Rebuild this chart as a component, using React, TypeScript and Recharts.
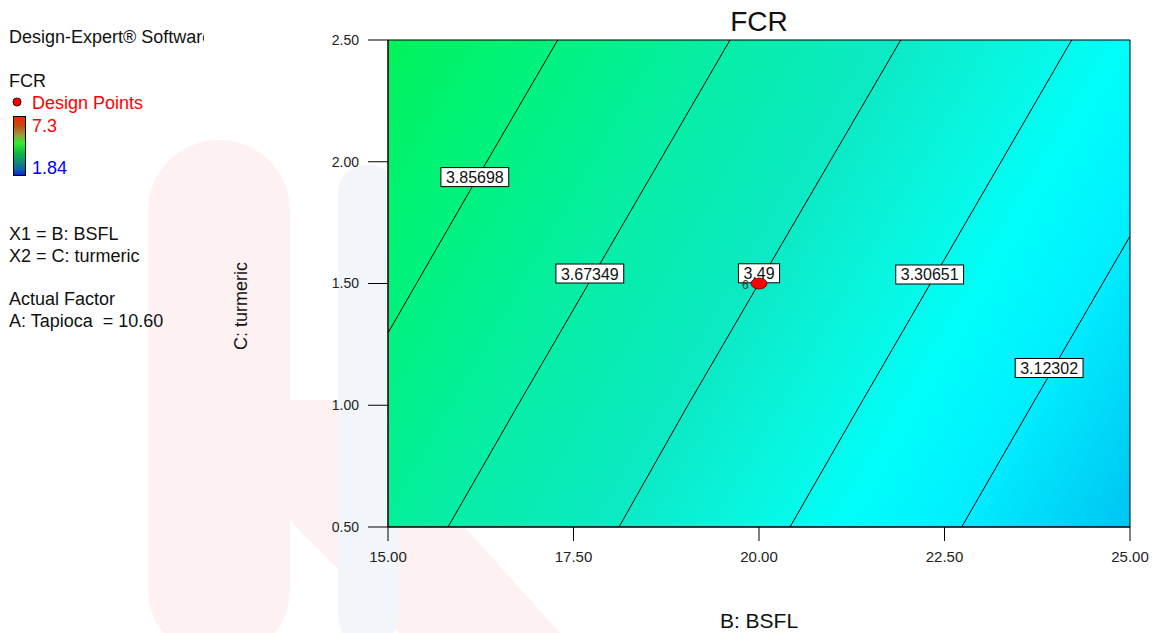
import { ComposedChart, Scatter, XAxis, YAxis, ReferenceArea } from 'recharts';

// axis ticks
const X_TICKS = [15, 17.5, 20, 22.5, 25];
const Y_TICKS = [0.5, 1, 1.5, 2, 2.5];

// contour lines (B: BSFL, C: turmeric)
const LEVEL_385698 = [{ x: 15, y: 1.297 }, { x: 16.21, y: 1.937 }, { x: 17.287, y: 2.5 }];
const LEVEL_367349 = [{ x: 15.809, y: 0.5 }, { x: 16.752, y: 1.001 }, { x: 19.609, y: 2.5 }];
const LEVEL_349 = [{ x: 18.113, y: 0.5 }, { x: 19.043, y: 1.001 }, { x: 21.91, y: 2.5 }];
const LEVEL_330651 = [{ x: 20.418, y: 0.5 }, { x: 21.361, y: 1.001 }, { x: 24.214, y: 2.5 }];
const LEVEL_312302 = [{ x: 22.732, y: 0.5 }, { x: 23.679, y: 1.001 }, { x: 25, y: 1.694 }];

const CONTOURS = [LEVEL_385698, LEVEL_367349, LEVEL_349, LEVEL_330651, LEVEL_312302];

const CONTOUR_LABELS = [
  { x: 16.17, y: 1.937, text: '3.85698' },
  { x: 17.72, y: 1.541, text: '3.67349' },
  { x: 20.0, y: 1.542, text: '3.49' },
  { x: 22.3, y: 1.537, text: '3.30651' },
  { x: 23.91, y: 1.153, text: '3.12302' },
];

const DESIGN_POINTS = [{ x: 20, y: 1.5, count: 6 }];

const FONT = "'Liberation Sans', Arial, sans-serif";

function textWidth(s: string, size: number) {
  let w = 0;
  for (const ch of s) w += ch === '.' ? 0.278 : 0.556;
  return w * size;
}

function NoDot() {
  return <g />;
}

function ContourLabel(props: any) {
  const { cx, cy, payload } = props;
  const w = textWidth(payload.text, 16) + 10;
  const h = 19;
  return (
    <g>
      <rect x={cx - w / 2} y={cy - h / 2} width={w} height={h} fill="#fff" stroke="#000" strokeWidth={1} />
      <text x={cx} y={cy + 6} textAnchor="middle" fontSize={16} fontFamily={FONT} fill="#111">{payload.text}</text>
    </g>
  );
}

function DesignPoint(props: any) {
  const { cx, cy, payload } = props;
  return (
    <g>
      <text x={cx - 17} y={cy + 5} fontSize={12} fontFamily={FONT} fill="#333">{payload.count}</text>
      <ellipse cx={cx} cy={cy} rx={8} ry={5.5} fill="#ff0000" stroke="#600" strokeWidth={0.8} />
    </g>
  );
}

function Panel() {
  return (
    <svg width={1158} height={633} style={{ position: 'absolute', left: 0, top: 0 }}>
      {/* faint watermark */}
      <rect x={148} y={140} width={142} height={520} rx={71} fill="#fdf1f1" />
      <polygon points="290,400 350,400 560,633 400,633 290,520" fill="#fdf1f1" />
      <rect x={338} y={165} width={60} height={480} rx={28} fill="#f2f5f9" />

      <clipPath id="swClip"><rect x={0} y={0} width={204} height={60} /></clipPath>
      <g fontFamily={FONT} fontSize={18} fill="#111">
        <text x={9} y={43} clipPath="url(#swClip)">Design-Expert® Software</text>
        <text x={9} y={87}>FCR</text>
        <circle cx={17} cy={102} r={4} fill="#ff0000" stroke="#300" strokeWidth={1} />
        <text x={32} y={109} fill="#ff0000">Design Points</text>
        <text x={32} y={132} fill="#ff0000">7.3</text>
        <text x={32} y={174} fill="#0000ff">1.84</text>
        <text x={9} y={240}>X1 = B: BSFL</text>
        <text x={9} y={262}>X2 = C: turmeric</text>
        <text x={9} y={305}>Actual Factor</text>
        <text x={9} y={327} style={{ whiteSpace: 'pre' }}>{'A: Tapioca  = 10.60'}</text>
      </g>
      <defs>
        <linearGradient id="barGrad" x1="0" y1="0" x2="0" y2="1">
          <stop offset="0" stopColor="#ff2000" />
          <stop offset="0.15" stopColor="#c04a10" />
          <stop offset="0.3" stopColor="#a89040" />
          <stop offset="0.45" stopColor="#30f030" />
          <stop offset="0.62" stopColor="#10b840" />
          <stop offset="0.78" stopColor="#108878" />
          <stop offset="0.9" stopColor="#1060a8" />
          <stop offset="1" stopColor="#0020e0" />
        </linearGradient>
      </defs>
      <rect x={13.5} y={116.5} width={12} height={59} fill="url(#barGrad)" stroke="#000" strokeWidth={1} />

      <text x={759} y={31} textAnchor="middle" fontFamily={FONT} fontSize={28} fill="#111">FCR</text>
      <text x={759} y={628} textAnchor="middle" fontFamily={FONT} fontSize={21} fill="#111">B: BSFL</text>
      <text transform="translate(247,306) rotate(-90)" textAnchor="middle" fontFamily={FONT} fontSize={18} fill="#111">C: turmeric</text>
    </svg>
  );
}

export default function App() {
  return (
    <div style={{ position: 'absolute', left: 0, top: 0, width: 1158, height: 633, background: '#fff' }}>
      <Panel />
      <div style={{ position: 'absolute', left: 0, top: 0 }}>
        <ComposedChart width={1158} height={633} margin={{ top: 40, right: 28, bottom: 0, left: 0 }}>
          <defs>
            <linearGradient id="fcrBg" gradientUnits="userSpaceOnUse" x1={388} y1={40} x2={1154.6} y2={483.9}>
              <stop offset="0" stopColor="#00f35a" />
              <stop offset="0.16" stopColor="#00f27e" />
              <stop offset="0.33" stopColor="#06eea6" />
              <stop offset="0.5" stopColor="#0ceac6" />
              <stop offset="0.62" stopColor="#08f6e0" />
              <stop offset="0.72" stopColor="#00fefa" />
              <stop offset="0.82" stopColor="#00f0ff" />
              <stop offset="1" stopColor="#00c4f2" />
            </linearGradient>
          </defs>
          <XAxis
            dataKey="x"
            type="number"
            domain={[15, 25]}
            ticks={X_TICKS}
            tickFormatter={(v: number) => v.toFixed(2)}
            height={106}
            tickSize={14}
            tickMargin={10}
            axisLine={{ stroke: '#000' }}
            tickLine={{ stroke: '#000' }}
            tick={{ fill: '#222', fontSize: 15, fontFamily: FONT }}
            allowDataOverflow
          />
          <YAxis
            dataKey="y"
            type="number"
            domain={[0.5, 2.5]}
            ticks={Y_TICKS}
            tickFormatter={(v: number) => v.toFixed(2)}
            width={388}
            tickSize={20}
            tickMargin={9}
            axisLine={{ stroke: '#000' }}
            tickLine={{ stroke: '#000' }}
            tick={{ fill: '#222', fontSize: 14, fontFamily: FONT }}
            allowDataOverflow
          />
          <ReferenceArea x1={15} x2={25} y1={0.5} y2={2.5} fill="url(#fcrBg)" fillOpacity={1} stroke="#000" strokeWidth={1} />
          {CONTOURS.map((c, i) => (
            <Scatter
              key={i}
              data={c}
              line={{ stroke: '#000', strokeWidth: 1 }}
              shape={NoDot}
              isAnimationActive={false}
            />
          ))}
          <Scatter data={CONTOUR_LABELS} shape={ContourLabel} isAnimationActive={false} />
          <Scatter data={DESIGN_POINTS} shape={DesignPoint} isAnimationActive={false} />
        </ComposedChart>
      </div>
    </div>
  );
}
